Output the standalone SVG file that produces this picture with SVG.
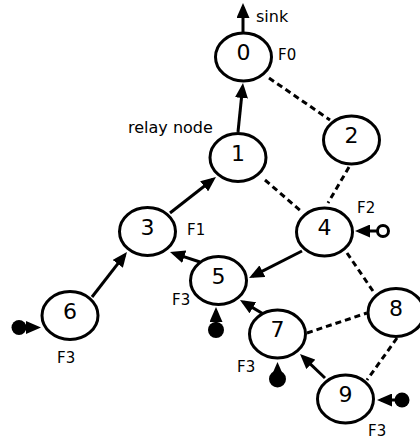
<svg xmlns="http://www.w3.org/2000/svg" width="420" height="439" viewBox="0 0 420 439">
<style>
.n ellipse{fill:#fff;stroke:#000;stroke-width:3}
.n text{font-family:"DejaVu Sans",sans-serif;font-size:22px;text-anchor:middle;fill:#000}
.lbl{font-family:"DejaVu Sans",sans-serif;font-size:15px;fill:#000}
.lbl2{font-family:"DejaVu Sans",sans-serif;font-size:16px;fill:#000}
.s{stroke:#000;stroke-width:3;fill:none;marker-end:url(#ah)}
.d{stroke:#000;stroke-width:3;fill:none;stroke-dasharray:6,4}
.dot{fill:#000}
</style>
<defs>
<marker id="ah" markerUnits="userSpaceOnUse" viewBox="0 0 15 13" refX="11" refY="6.5" markerWidth="15" markerHeight="13" orient="auto">
<path d="M0,0 L15,6.5 L0,13 z" fill="#000"/>
</marker>
</defs>
<g id="connectors">
<line class="s" x1="243" y1="32" x2="243" y2="7"/>
<line class="s" x1="238" y1="132" x2="242.6" y2="87"/>
<line class="s" x1="170" y1="213" x2="212.8" y2="179.5"/>
<line class="s" x1="302" y1="251" x2="252.6" y2="276.2"/>
<line class="s" x1="200" y1="262" x2="173.8" y2="253.3"/>
<line class="s" x1="92" y1="297" x2="124.5" y2="255.2"/>
<line class="s" x1="265" y1="315" x2="243.4" y2="302.1"/>
<line class="s" x1="325" y1="378" x2="302.9" y2="356.8"/>
<line class="d" x1="269" y1="78" x2="330" y2="120"/>
<line class="d" x1="265" y1="180" x2="302" y2="212"/>
<line class="d" x1="349" y1="167" x2="328" y2="203"/>
<line class="d" x1="347" y1="253" x2="375" y2="294"/>
<line class="d" x1="307" y1="333" x2="367" y2="313"/>
<line class="d" x1="397" y1="338" x2="367" y2="380"/>
<line class="s" x1="19" y1="327.5" x2="37" y2="327.5"/>
<circle class="dot" cx="19" cy="327.5" r="7.5"/>
<line class="s" x1="216" y1="330" x2="216" y2="311"/>
<circle class="dot" cx="216" cy="330" r="8"/>
<line class="s" x1="277.5" y1="379" x2="277.5" y2="366"/>
<circle class="dot" cx="277.5" cy="379" r="8.5"/>
<line class="s" x1="402" y1="400" x2="381" y2="400"/>
<circle class="dot" cx="402" cy="400" r="7.5"/>
<line class="s" x1="377" y1="231" x2="359" y2="231"/>
<circle cx="383" cy="231" r="5.5" fill="#fff" stroke="#000" stroke-width="3"/>
</g>
<g id="node0" class="n"><ellipse cx="243.5" cy="57" rx="28" ry="24"/><text x="243.5" y="60">0</text></g>
<g id="node1" class="n"><ellipse cx="238" cy="157.5" rx="28" ry="24"/><text x="238" y="160.5">1</text></g>
<g id="node2" class="n"><ellipse cx="351.5" cy="140" rx="28" ry="24"/><text x="351.5" y="143">2</text></g>
<g id="node3" class="n"><ellipse cx="147.5" cy="231.5" rx="28" ry="24"/><text x="147.5" y="234.5">3</text></g>
<g id="node4" class="n"><ellipse cx="324.5" cy="232" rx="28" ry="24"/><text x="324.5" y="235">4</text></g>
<g id="node5" class="n"><ellipse cx="218.5" cy="280.5" rx="28" ry="24"/><text x="218.5" y="283.5">5</text></g>
<g id="node6" class="n"><ellipse cx="70" cy="315.5" rx="28" ry="24"/><text x="70" y="318.5">6</text></g>
<g id="node7" class="n"><ellipse cx="277.5" cy="334" rx="28" ry="24"/><text x="277.5" y="337">7</text></g>
<g id="node8" class="n"><ellipse cx="396" cy="312.5" rx="28" ry="24"/><text x="396" y="315.5">8</text></g>
<g id="node9" class="n"><ellipse cx="345.5" cy="399" rx="28" ry="24"/><text x="345.5" y="402">9</text></g>
<g id="labels">
<text class="lbl2" x="256" y="22">sink</text>
<text class="lbl2" x="128" y="133">relay node</text>
<text class="lbl" x="278" y="60">F0</text>
<text class="lbl" x="187" y="235">F1</text>
<text class="lbl" x="357" y="213">F2</text>
<text class="lbl" x="172" y="305">F3</text>
<text class="lbl" x="57" y="363">F3</text>
<text class="lbl" x="237" y="372">F3</text>
<text class="lbl" x="368" y="436">F3</text>
</g>
</svg>
